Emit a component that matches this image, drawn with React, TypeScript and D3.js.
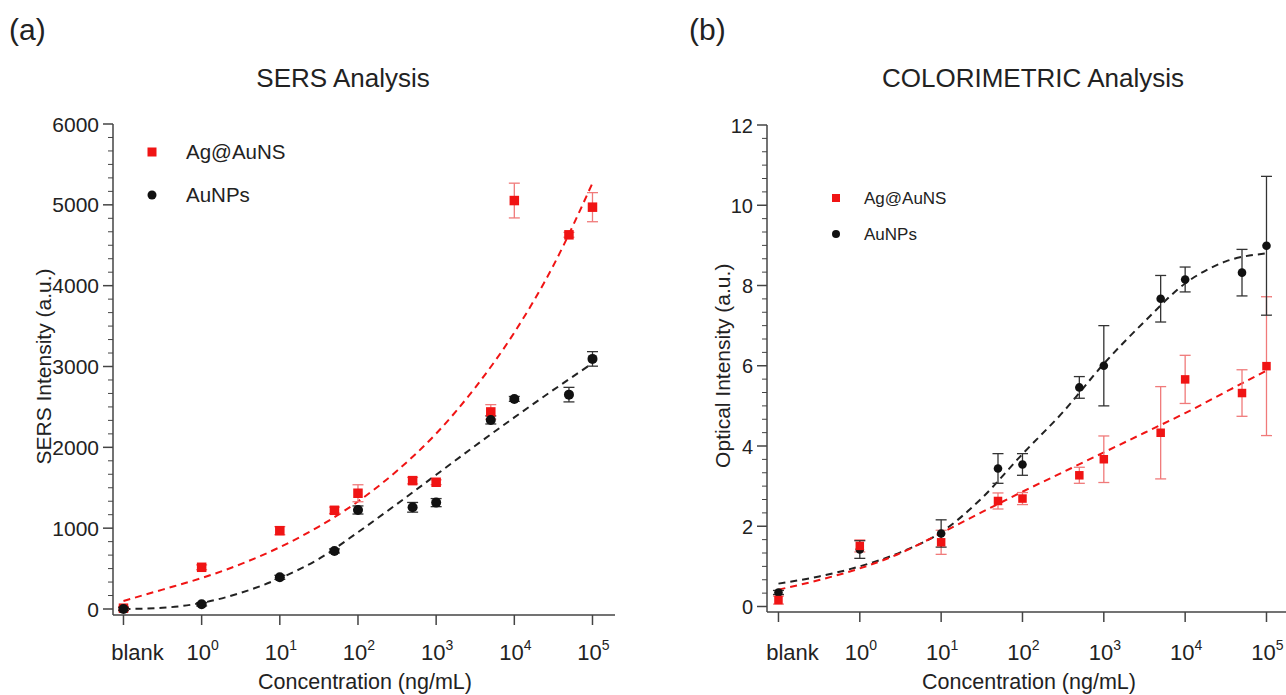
import React, { useEffect, useRef } from 'react';
import * as d3 from 'd3';

// concentrations (ng/mL); "blank" sits one decade below 10^0
const concentrations: (string | number)[] = ['blank', 1, 10, 50, 100, 500, 1000, 5000, 10000, 50000, 100000];
const xTickExponents = [0, 1, 2, 3, 4, 5];

// SERS analysis
const sersAg = [10, 516, 969, 1221, 1432, 1588, 1568, 2438, 5053, 4629, 4971];
const sersAgErr = [20, 30, 50, 40, 105, 40, 30, 90, 215, 30, 180];
const sersAu = [0, 58, 392, 718, 1225, 1258, 1316, 2339, 2599, 2652, 3094];
const sersAuErr = [20, 20, 25, 25, 50, 60, 50, 50, 30, 90, 90];
const sersTicks = [0, 1000, 2000, 3000, 4000, 5000, 6000];

// COLORIMETRIC analysis
const colAg = [0.16, 1.51, 1.6, 2.63, 2.69, 3.27, 3.67, 4.33, 5.66, 5.32, 5.99];
const colAgErr = [0.1, 0.15, 0.3, 0.2, 0.15, 0.2, 0.58, 1.15, 0.6, 0.58, 1.73];
const colAu = [0.35, 1.42, 1.82, 3.44, 3.54, 5.46, 6.0, 7.67, 8.15, 8.32, 8.99];
const colAuErr = [0.05, 0.22, 0.34, 0.37, 0.27, 0.27, 1.0, 0.58, 0.31, 0.58, 1.73];
const colTicks = [0, 2, 4, 6, 8, 10, 12];

// dashed fit curves, read at half-decade steps (log10 of concentration, -1 = blank)
const fitExponents = [-1, -0.5, 0, 0.5, 1, 1.5, 2, 2.5, 3, 3.5, 4, 4.5, 5];
const sersAgFit = [100, 240, 383, 555, 765, 1020, 1330, 1710, 2170, 2740, 3420, 4250, 5270];
const sersAuFit = [0, 15, 75, 200, 380, 620, 950, 1300, 1660, 2020, 2370, 2710, 3040];
const colAgFit = [0.42, 0.66, 0.95, 1.33, 1.83, 2.35, 2.86, 3.35, 3.84, 4.33, 4.82, 5.35, 5.88];
const colAuFit = [0.57, 0.75, 1.0, 1.35, 1.85, 2.7, 3.8, 4.85, 6.05, 7.1, 8.05, 8.6, 8.8];

const seriesNames = ['Ag@AuNS', 'AuNPs'];

const FONT = "'Liberation Sans', Arial, Helvetica, sans-serif";
const RED = '#f01414';
const RED_ERR = '#f07a7a';
const BLACK = '#111';
const AXIS = '#444';

const concValue = (c: string | number) => (c === 'blank' ? 0.1 : (c as number));

type Panel = {
  letter: string;
  letterX: number;
  title: string;
  titleX: number;
  yLabel: string;
  left: number;
  right: number;
  axisEnd: number;
  top: number;
  bottom: number;
  xAxisY: number;
  yMax: number;
  ticks: number[];
  minorPer: number;
  xDomain: [number, number];
  ag: number[];
  agErr: number[];
  au: number[];
  auErr: number[];
  agFit: number[];
  auFit: number[];
  yTickFont: number;
  yLabelX: number;
  xTitleX: number;
  legend: { x: number; y: number; gap: number; font: number; textX: number; sq: number };
  sq: number;
  r: number;
};

const panels: Panel[] = [
  {
    letter: '(a)', letterX: 9, title: 'SERS Analysis', titleX: 343, yLabel: 'SERS Intensity (a.u.)',
    left: 113, right: 615, axisEnd: 615, top: 124, bottom: 609, xAxisY: 615,
    yMax: 6000, ticks: sersTicks, minorPer: 6,
    xDomain: [Math.pow(10, -1.134), Math.pow(10, 5.288)],
    ag: sersAg, agErr: sersAgErr, au: sersAu, auErr: sersAuErr, agFit: sersAgFit, auFit: sersAuFit,
    yTickFont: 21, yLabelX: 51, xTitleX: 365,
    legend: { x: 152, y: 152, gap: 43, font: 20.5, textX: 186, sq: 9 },
    sq: 9.5, r: 5,
  },
  {
    letter: '(b)', letterX: 689, title: 'COLORIMETRIC Analysis', titleX: 1033, yLabel: 'Optical Intensity (a.u.)',
    left: 767, right: 1300, axisEnd: 1290, top: 125, bottom: 606.5, xAxisY: 612,
    yMax: 12, ticks: colTicks, minorPer: 6,
    xDomain: [Math.pow(10, -1.141), Math.pow(10, 5.412)],
    ag: colAg, agErr: colAgErr, au: colAu, auErr: colAuErr, agFit: colAgFit, auFit: colAuFit,
    yTickFont: 20, yLabelX: 730, xTitleX: 1029,
    legend: { x: 836, y: 198, gap: 36, font: 17, textX: 864, sq: 8 },
    sq: 8.5, r: 4.3,
  },
];

const drawPanel = (svg: d3.Selection<SVGSVGElement, unknown, null, undefined>, p: Panel) => {
  const g = svg.append('g').attr('font-family', FONT).attr('fill', '#222');

  const x = d3.scaleLog().domain(p.xDomain).range([p.left, p.right]);
  const y = d3.scaleLinear().domain([0, p.yMax]).range([p.bottom, p.top]);

  // panel letter + title
  g.append('text').attr('x', p.letterX).attr('y', 40).attr('font-size', 30).text(p.letter);
  g.append('text')
    .attr('x', p.titleX)
    .attr('y', 87)
    .attr('text-anchor', 'middle')
    .attr('font-size', 26)
    .text(p.title);

  // axes lines
  g.append('line').attr('x1', p.left).attr('x2', p.left).attr('y1', p.top).attr('y2', p.xAxisY)
    .attr('stroke', AXIS).attr('stroke-width', 1.5);
  g.append('line').attr('x1', p.left).attr('x2', p.axisEnd).attr('y1', p.xAxisY).attr('y2', p.xAxisY)
    .attr('stroke', AXIS).attr('stroke-width', 1.5);

  // y ticks (major + minor)
  const step = p.ticks[1] - p.ticks[0];
  const minor: number[] = [];
  p.ticks.slice(0, -1).forEach(t => {
    for (let i = 1; i < p.minorPer; i++) minor.push(t + (step * i) / p.minorPer);
  });
  g.selectAll('.minor').data(minor).enter().append('line')
    .attr('x1', p.left - 5).attr('x2', p.left)
    .attr('y1', d => y(d)).attr('y2', d => y(d))
    .attr('stroke', AXIS).attr('stroke-width', 1);
  g.selectAll('.major').data(p.ticks).enter().append('line')
    .attr('x1', p.left - 10).attr('x2', p.left)
    .attr('y1', d => y(d)).attr('y2', d => y(d))
    .attr('stroke', AXIS).attr('stroke-width', 1.5);
  g.selectAll('.ylab').data(p.ticks).enter().append('text')
    .attr('x', p.left - 14).attr('y', d => y(d) + 7.5)
    .attr('text-anchor', 'end').attr('font-size', p.yTickFont)
    .text(d => String(d));

  // y axis title
  const yMid = (p.top + p.bottom) / 2;
  g.append('text')
    .attr('transform', `translate(${p.yLabelX},${yMid}) rotate(-90)`)
    .attr('text-anchor', 'middle').attr('font-size', 21)
    .text(p.yLabel);

  // x ticks
  const xTicks = [0.1, ...xTickExponents.map(e => Math.pow(10, e))];
  g.selectAll('.xt').data(xTicks).enter().append('line')
    .attr('x1', d => x(d)).attr('x2', d => x(d))
    .attr('y1', p.xAxisY).attr('y2', p.xAxisY + 10)
    .attr('stroke', AXIS).attr('stroke-width', 1.5);
  const labY = 660;
  g.append('text').attr('x', x(0.1) + 14).attr('y', labY).attr('text-anchor', 'middle')
    .attr('font-size', 22).text('blank');
  xTickExponents.forEach(e => {
    const t = g.append('text').attr('x', x(Math.pow(10, e)) + 1).attr('y', labY)
      .attr('text-anchor', 'middle').attr('font-size', 22);
    t.append('tspan').text('10');
    t.append('tspan').attr('dy', -10).attr('font-size', 14).text(String(e));
  });
  g.append('text')
    .attr('x', p.xTitleX).attr('y', 689)
    .attr('text-anchor', 'middle').attr('font-size', 21.5)
    .text('Concentration (ng/mL)');

  // fits
  const fitLine = (vals: number[]) =>
    d3.line<number>()
      .x((_, i) => x(Math.pow(10, fitExponents[i])))
      .y(d => y(d))
      .curve(d3.curveMonotoneX)(vals);
  g.append('path').attr('d', fitLine(p.auFit)).attr('fill', 'none')
    .attr('stroke', '#222').attr('stroke-width', 2).attr('stroke-dasharray', '7,5');
  g.append('path').attr('d', fitLine(p.agFit)).attr('fill', 'none')
    .attr('stroke', RED).attr('stroke-width', 2).attr('stroke-dasharray', '7,5');

  // error bars
  const errBars = (vals: number[], errs: number[], color: string) => {
    const eg = g.append('g').attr('stroke', color).attr('stroke-width', 1.3);
    vals.forEach((v, i) => {
      const cx = x(concValue(concentrations[i]));
      const y1 = y(v + errs[i]);
      const y2 = y(v - errs[i]);
      eg.append('line').attr('x1', cx).attr('x2', cx).attr('y1', y1).attr('y2', y2);
      eg.append('line').attr('x1', cx - 5.5).attr('x2', cx + 5.5).attr('y1', y1).attr('y2', y1);
      eg.append('line').attr('x1', cx - 5.5).attr('x2', cx + 5.5).attr('y1', y2).attr('y2', y2);
    });
  };
  errBars(p.ag, p.agErr, RED_ERR);
  errBars(p.au, p.auErr, '#333');

  const drawAg = () =>
    g.selectAll(null).data(p.ag).enter().append('rect')
      .attr('x', (_, i) => x(concValue(concentrations[i])) - p.sq / 2)
      .attr('y', d => y(d) - p.sq / 2)
      .attr('width', p.sq).attr('height', p.sq).attr('fill', RED);
  const drawAu = () =>
    g.selectAll(null).data(p.au).enter().append('circle')
      .attr('cx', (_, i) => x(concValue(concentrations[i])))
      .attr('cy', d => y(d)).attr('r', p.r).attr('fill', BLACK);
  if (p === panels[0]) {
    drawAg();
    drawAu();
  } else {
    drawAu();
    drawAg();
  }

  // legend
  const L = p.legend;
  g.append('rect').attr('x', L.x - L.sq / 2).attr('y', L.y - L.sq / 2)
    .attr('width', L.sq).attr('height', L.sq).attr('fill', RED);
  g.append('circle').attr('cx', L.x).attr('cy', L.y + L.gap).attr('r', L.sq / 2).attr('fill', BLACK);
  seriesNames.forEach((name, i) => {
    g.append('text').attr('x', L.textX).attr('y', L.y + i * L.gap + L.font * 0.36)
      .attr('font-size', L.font).text(name);
  });
};

const App = () => {
  const ref = useRef<SVGSVGElement>(null);

  useEffect(() => {
    const svg = d3.select(ref.current as SVGSVGElement)
      .attr('width', 1286)
      .attr('height', 695);
    svg.selectAll('*').remove();
    svg.append('rect').attr('width', 1286).attr('height', 695).attr('fill', '#fff');
    panels.forEach(p => drawPanel(svg, p));
  }, []);

  return <svg ref={ref} style={{ position: 'absolute', left: 0, top: 0 }}></svg>;
};

export default App;
